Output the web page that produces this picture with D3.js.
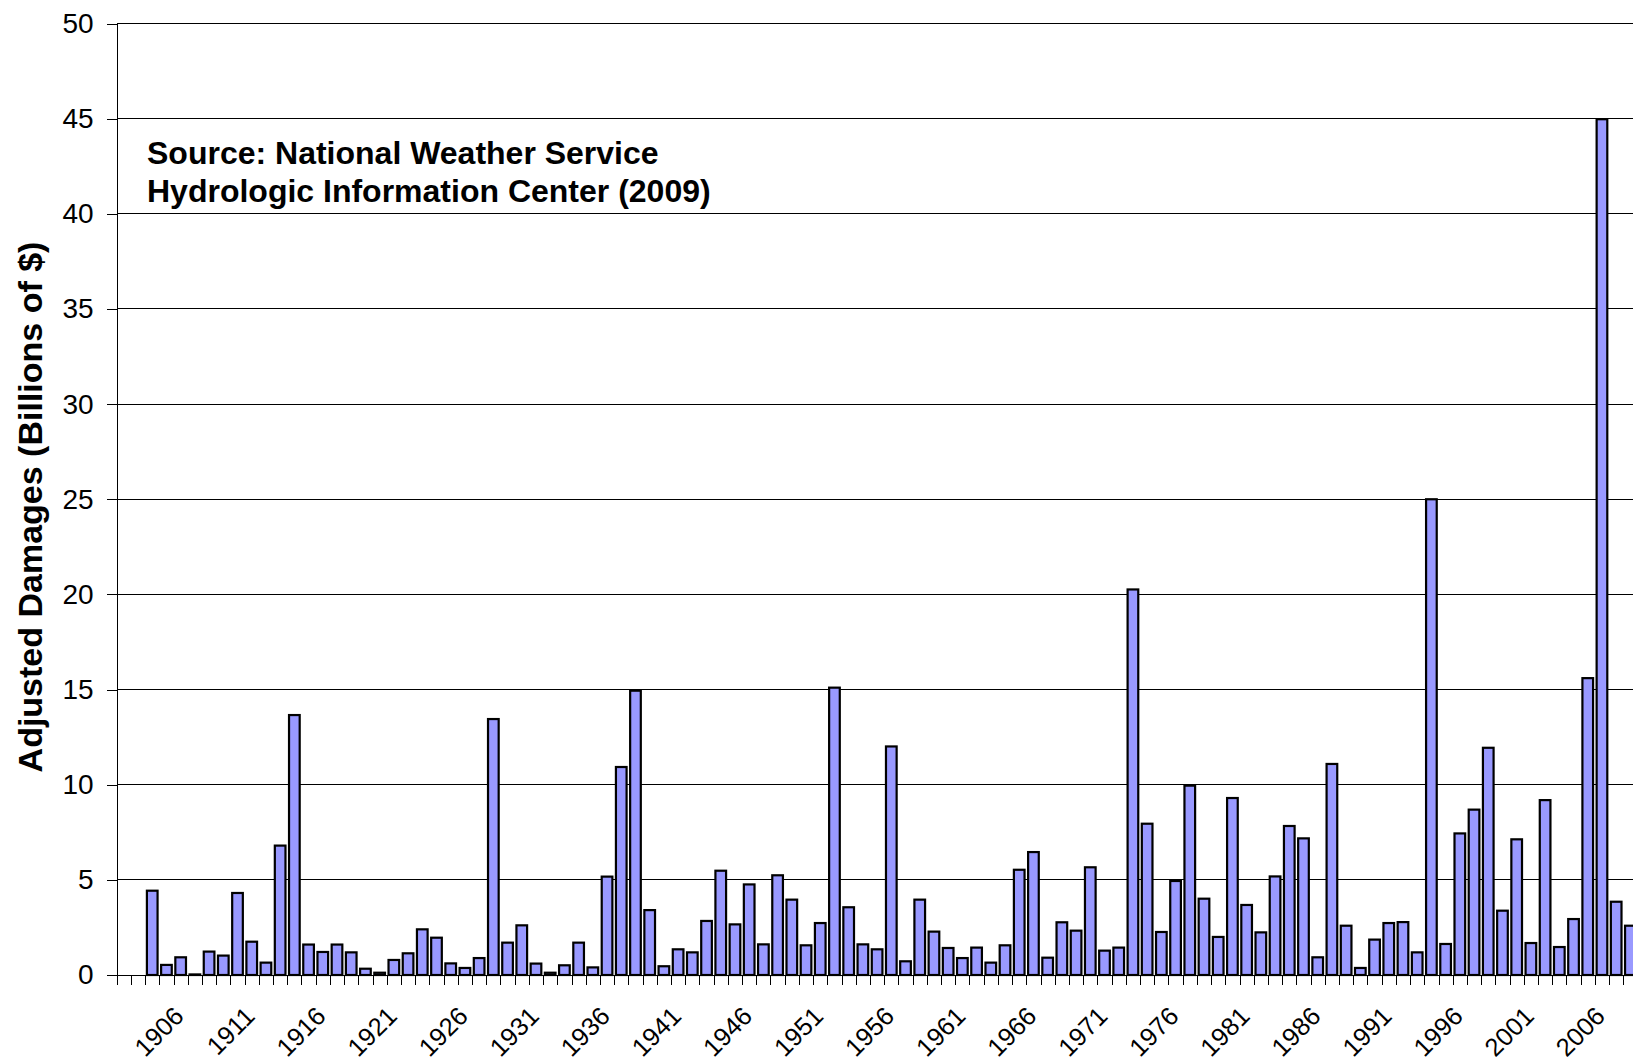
<!DOCTYPE html>
<html><head><meta charset="utf-8">
<script src="https://cdn.jsdelivr.net/npm/d3@7"></script>
<style>
html,body{margin:0;padding:0;background:#fff;overflow:hidden}
svg{display:block;background:#fff}
text{font-family:"Liberation Sans",Arial,Helvetica,sans-serif;fill:#000}
</style></head><body>
<svg id="chart" width="1633" height="1063"></svg>
<script>
// ---- data ----
const years = [1903,1904,1905,1906,1907,1908,1909,1910,1911,1912,1913,1914,1915,1916,1917,1918,1919,1920,
  1921,1922,1923,1924,1925,1926,1927,1928,1929,1930,1931,1932,1933,1934,1935,1936,1937,1938,1939,1940,
  1941,1942,1943,1944,1945,1946,1947,1948,1949,1950,1951,1952,1953,1954,1955,1956,1957,1958,1959,1960,
  1961,1962,1963,1964,1965,1966,1967,1968,1969,1970,1971,1972,1973,1974,1975,1976,1977,1978,1979,1980,
  1981,1982,1983,1984,1985,1986,1987,1988,1989,1990,1991,1992,1993,1994,1995,1996,1997,1998,1999,2000,
  2001,2002,2003,2004,2005,2006,2007,2008,2009];
const damages = [null,null,4.43,0.53,0.93,0.03,1.23,1.02,4.31,1.75,0.65,6.8,13.66,1.6,1.21,1.6,1.19,0.33,
  0.12,0.79,1.14,2.4,1.96,0.61,0.37,0.89,13.45,1.7,2.61,0.6,0.12,0.51,1.7,0.4,5.17,10.93,14.94,3.41,
  0.46,1.35,1.19,2.84,5.48,2.66,4.76,1.61,5.24,3.96,1.56,2.73,15.1,3.56,1.61,1.35,12.01,0.72,3.96,2.28,
  1.42,0.89,1.44,0.65,1.56,5.53,6.46,0.91,2.77,2.33,5.66,1.28,1.44,20.26,7.95,2.26,4.94,9.95,4.01,2.0,
  9.3,3.68,2.24,5.18,7.83,7.18,0.93,11.09,2.59,0.37,1.86,2.73,2.78,1.19,25.0,1.63,7.44,8.69,11.94,3.38,
  7.13,1.68,9.19,1.47,2.94,15.6,44.97,3.85,2.59];
const yTicks = [0,5,10,15,20,25,30,35,40,45,50];
const xLabelYears = [1906,1911,1916,1921,1926,1931,1936,1941,1946,1951,1956,1961,1966,1971,1976,1981,1986,1991,1996,2001,2006];
const yTitle = "Adjusted Damages (Billions of $)";
const sourceLines = ["Source: National Weather Service","Hydrologic Information Center (2009)"];

// ---- layout ----
(function () {
const W = 1633, H = 1063;
const plotLeft = 116.7, plotTop = 23.5, plotBottom = 975, slot = 14.213;
const plotRight = plotLeft + slot * years.length;
const svg = d3.select("#chart");

const y = d3.scaleLinear().domain([0, 50]).range([plotBottom, plotTop]);
const x = d3.scaleBand().domain(years).range([plotLeft, plotRight]).paddingInner(0.25).paddingOuter(0.125);
const xb = d3.scaleLinear().domain([years[0], years[years.length - 1] + 1]).range([plotLeft, plotRight]);

// gridlines
svg.append("g").selectAll("line").data(yTicks.filter(d => d > 0)).join("line")
  .attr("x1", plotLeft).attr("x2", W)
  .attr("y1", d => y(d)).attr("y2", d => y(d))
  .attr("stroke", "#000").attr("stroke-width", 1).attr("shape-rendering", "crispEdges");

// bars
svg.append("g").selectAll("rect").data(years.map((yr, i) => ({yr, v: damages[i]})).filter(d => d.v != null))
  .join("rect")
  .attr("x", d => x(d.yr)).attr("width", x.bandwidth())
  .attr("y", d => y(d.v)).attr("height", d => y(0) - y(d.v))
  .attr("fill", "#9999FF").attr("stroke", "#000").attr("stroke-width", 2.2);

// x axis: slot boundary ticks
const xAxis = svg.append("g").attr("transform", `translate(0,${plotBottom})`)
  .call(d3.axisBottom(xb).tickValues(years.concat([years[years.length - 1] + 1])).tickSize(10).tickSizeOuter(0).tickFormat(""));
xAxis.selectAll("path,line").attr("stroke", "#000").attr("stroke-width", 1).attr("shape-rendering", "crispEdges");

// x labels
const xLab = svg.append("g").attr("transform", `translate(0,${plotBottom})`)
  .call(d3.axisBottom(x).tickValues(xLabelYears).tickSize(0));
xLab.select(".domain").remove();
xLab.selectAll("text")
  .attr("y", null).attr("dy", "0.71em")
  .attr("text-anchor", "end")
  .attr("transform", "translate(6,30) rotate(-45)")
  .style("font-size", "25.5px").style("font-family", '"Liberation Sans",Arial,sans-serif').attr("fill", "#000");

// y axis
const yAxis = svg.append("g").attr("transform", `translate(${plotLeft},0)`)
  .call(d3.axisLeft(y).tickValues(yTicks).tickSize(10).tickSizeOuter(0).tickPadding(13));
yAxis.selectAll("path,line").attr("stroke", "#000").attr("stroke-width", 1).attr("shape-rendering", "crispEdges");
yAxis.selectAll("text").style("font-size", "28px").style("font-family", '"Liberation Sans",Arial,sans-serif').attr("fill", "#000");

// y title
svg.append("text")
  .attr("transform", "translate(42,507) rotate(-90)")
  .attr("text-anchor", "middle")
  .style("font-size", "34px").style("font-weight", "bold")
  .text(yTitle);

// source note
svg.append("g").selectAll("text").data(sourceLines).join("text")
  .attr("x", 147).attr("y", (d, i) => 163.5 + i * 38.5)
  .style("font-size", "32px").style("font-weight", "bold")
  .text(d => d);
})();
</script>
</body></html>
